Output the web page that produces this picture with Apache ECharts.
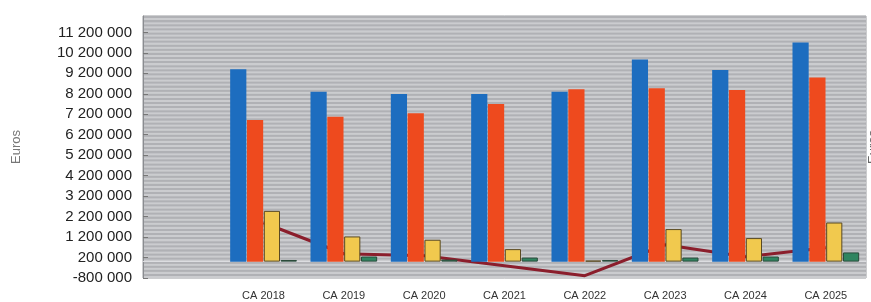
<!DOCTYPE html>
<html>
<head>
<meta charset="utf-8">
<script src="https://cdn.jsdelivr.net/npm/echarts@6/dist/echarts.min.js"></script>
<style>
  html, body { margin: 0; padding: 0; background: #ffffff; }
  #chart { width: 871px; height: 302px; }
</style>
</head>
<body>
<div id="chart"></div>
<script>
// categories (first slot is an empty category, as in the original)
var categories = ["", "CA 2018", "CA 2019", "CA 2020", "CA 2021", "CA 2022", "CA 2023", "CA 2024", "CA 2025"];

var serie1 = [null, 9400000, 8300000, 8190000, 8190000, 8300000, 9880000, 9360000, 10710000];
var serie2 = [null, 6920000, 7080000, 7250000, 7700000, 8420000, 8470000, 8390000, 9000000];
var serie3 = [null, 2480000, 1230000, 1070000, 610000, 50000, 1590000, 1150000, 1910000];
var serie4 = [null, 80000, 250000, 100000, 200000, 80000, 200000, 250000, 450000];
var serieLine = [null, 1900000, 385000, 288000, -200000, -688000, 824000, 239000, 678000];

var yTicks = [-800000, 200000, 1200000, 2200000, 3200000, 4200000, 5200000,
  6200000, 7200000, 8200000, 9200000, 10200000, 11200000];

function fmt(v) {
  return String(v).replace(/\B(?=(\d{3})+(?!\d))/g, " ");
}

var myChart = echarts.init(document.getElementById("chart"));

var option = {
  animation: false,
  grid: {
    left: 143,
    right: 5,
    top: 16,
    bottom: 24,
    outerBoundsMode: "none",
    containLabel: false,
    show: true,
    backgroundColor: "#bdbec1",
    borderWidth: 1,
    borderColor: "#9a9ca0",
  },
  xAxis: [
    {
      type: "category",
      data: categories,
      axisLine: { show: false, onZero: false },
      axisTick: { show: false },
      axisLabel: {
        color: "#333",
        fontFamily: "Liberation Sans",
        fontSize: 11,
        margin: 12,
        interval: 0,
      },
    },
    {
      type: "category",
      data: categories,
      position: "bottom",
      axisLine: { show: true, onZero: true, lineStyle: { color: "#dcdde0", width: 1 } },
      axisTick: { show: false },
      axisLabel: { show: false },
    },
  ],
  yAxis: [
    {
      type: "value",
      min: -800000,
      max: 12000000,
      name: "Euros",
      nameLocation: "middle",
      nameRotate: 90,
      nameGap: 120,
      nameTextStyle: { color: "#777", fontFamily: "Liberation Sans", fontSize: 13 },
      axisLine: { show: true, lineStyle: { color: "#8a8c90" } },
      axisTick: { show: true, inside: true, length: 5, customValues: yTicks, lineStyle: { color: "#777" } },
      axisLabel: {
        customValues: yTicks,
        color: "#222",
        fontFamily: "Liberation Sans",
        fontSize: 15,
        margin: 11,
        formatter: function (v) { return fmt(v); },
      },
      splitLine: { show: false },
    },
    {
      type: "value",
      position: "right",
      min: -800000,
      max: 12000000,
      interval: 100000,
      name: "Euros",
      nameLocation: "middle",
      nameRotate: 90,
      nameGap: 1,
      nameTextStyle: { color: "#666", fontFamily: "Liberation Sans", fontSize: 13 },
      axisLine: { show: false },
      axisTick: { show: false },
      axisLabel: { show: false },
      splitLine: { show: false },
      splitArea: {
        show: true,
        areaStyle: { color: ["#cbcccf", "#b0b1b5"] },
      },
    },
  ],
  series: [
    {
      name: "Ligne",
      type: "line",
      data: serieLine,
      z: 1,
      symbol: "none",
      lineStyle: { color: "#8b1e2c", width: 3 },
    },
    {
      name: "Série 1",
      type: "bar",
      data: serie1,
      z: 3,
      barGap: "4%",
      barCategoryGap: "17%",
      itemStyle: { color: "#1d6dbf" },
    },
    {
      name: "Série 2",
      type: "bar",
      data: serie2,
      z: 3,
      itemStyle: { color: "#ee4a1e" },
    },
    {
      name: "Série 3",
      type: "bar",
      data: serie3,
      z: 3,
      itemStyle: { color: "#f1c94e", borderColor: "#5a4a22", borderWidth: 1 },
    },
    {
      name: "Série 4",
      type: "bar",
      data: serie4,
      z: 3,
      itemStyle: { color: "#2f8560", borderColor: "#2a4a3a", borderWidth: 1 },
    },
  ],
};

option && myChart.setOption(option);
</script>
</body>
</html>
